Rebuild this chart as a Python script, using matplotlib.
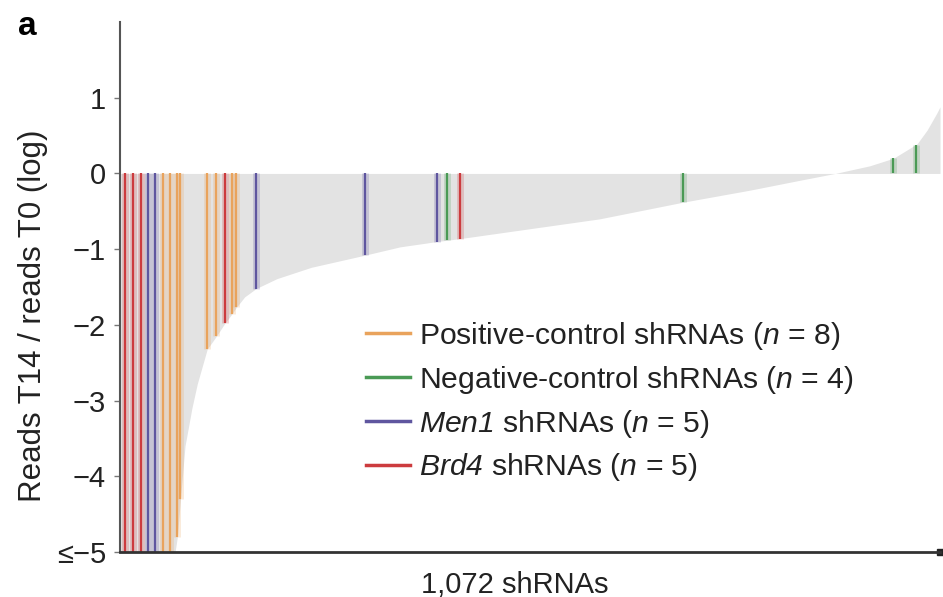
import numpy as np
import matplotlib.pyplot as plt
from matplotlib.lines import Line2D

plt.rcParams['font.family'] = ['Liberation Sans', 'DejaVu Sans']
plt.rcParams['mathtext.fontset'] = 'custom'
# everything in math mode here is italic (n, Men1, Brd4)
plt.rcParams['mathtext.rm'] = 'Liberation Sans:italic'
plt.rcParams['mathtext.it'] = 'Liberation Sans:italic'

# sorted profile of all shRNAs (rank, log ratio)
n_total = 1072
rank_knots = [0, 72, 75, 79, 85, 94, 101, 114, 126, 137, 146, 152, 163, 178, 205,
              250, 320, 366, 414, 445, 627, 736, 824, 889, 935, 980, 1011, 1042,
              1055, 1068, 1072]
log_ratio_knots = [-5, -5, -4.8, -4.3, -3.6, -3.1, -2.78, -2.32, -2.15, -1.98, -1.86,
                   -1.77, -1.63, -1.52, -1.39, -1.24, -1.08, -0.97, -0.9, -0.86, -0.6,
                   -0.38, -0.22, -0.09, 0.0, 0.1, 0.2, 0.39, 0.57, 0.8, 0.88]

# highlighted shRNAs
pos_rank = [56, 65, 75, 79, 114, 126, 146, 152]
pos_val = [-5, -5, -4.8, -4.3, -2.32, -2.15, -1.86, -1.77]
neg_rank = [428, 736, 1010, 1041]
neg_val = [-0.88, -0.38, 0.2, 0.38]
men1_rank = [37, 46, 178, 320, 414]
men1_val = [-5, -5, -1.52, -1.08, -0.9]
brd4_rank = [7, 17, 27, 137, 445]
brd4_val = [-5, -5, -5, -1.98, -0.86]

labels = [r'Positive-control shRNAs ($n$ = 8)',
          r'Negative-control shRNAs ($n$ = 4)',
          r'$Men1$ shRNAs ($n$ = 5)',
          r'$Brd4$ shRNAs ($n$ = 5)']
colores = ['#e9a35c', '#4a9a55', '#5f569f', '#cc3b3e']

fig = plt.figure(figsize=(9.43, 5.97), dpi=100)
ax = fig.add_axes([120 / 943, 1 - 552 / 597, 820 / 943, 530 / 597])

ax.fill_between(rank_knots, log_ratio_knots, 0, color='#e3e3e3', linewidth=0)

grupos = [(pos_rank, pos_val), (neg_rank, neg_val), (men1_rank, men1_val), (brd4_rank, brd4_val)]
for (r, v), c in zip(grupos, colores):
    ax.vlines(r, 0, v, color=c, linewidth=5, alpha=0.22)
for (r, v), c in zip(grupos, colores):
    ax.vlines(r, 0, v, color=c, linewidth=1.6)

ax.set_xlim(0, n_total)
ax.set_ylim(-5, 2)
ax.set_yticks([-5, -4, -3, -2, -1, 0, 1])
ax.set_yticklabels(['≤−5', '−4', '−3', '−2', '−1', '0', '1'])
ax.set_xticks([])
ax.tick_params(axis='y', length=4, width=1, color='#777', labelsize=21, pad=6,
               labelcolor='#222')
for s in ['top', 'right']:
    ax.spines[s].set_visible(False)
ax.spines['left'].set_color('#555')
ax.spines['left'].set_linewidth(1.5)
ax.spines['bottom'].set_color('#333')
ax.spines['bottom'].set_linewidth(2)
ax.plot([1], [0], marker='s', ms=4, color='#222', transform=ax.transAxes, clip_on=False)

ax.set_ylabel('Reads T14 / reads T0 (log)', fontsize=22.5, color='#222')
ax.yaxis.set_label_coords(-0.088, 0.445)
ax.set_xlabel('1,072 shRNAs', fontsize=21, color='#222')
ax.xaxis.set_label_coords(0.482, -0.035)
ax.xaxis.label.set_va('top')

handles = [Line2D([], [], color=c, linewidth=2.5) for c in colores]
ax.legend(handles, labels, loc='upper left', bbox_to_anchor=(366 / 943, 1 - 320 / 597),
          bbox_transform=fig.transFigure, frameon=False, fontsize=21.7,
          handlelength=1.45, handletextpad=0.3, labelspacing=0.39, borderpad=0,
          borderaxespad=0, labelcolor='#222')

fig.text(18 / 943, 1 - 11 / 597, 'a', fontsize=24, fontweight='bold', va='top', ha='left')

plt.savefig('out.png', dpi=100)
